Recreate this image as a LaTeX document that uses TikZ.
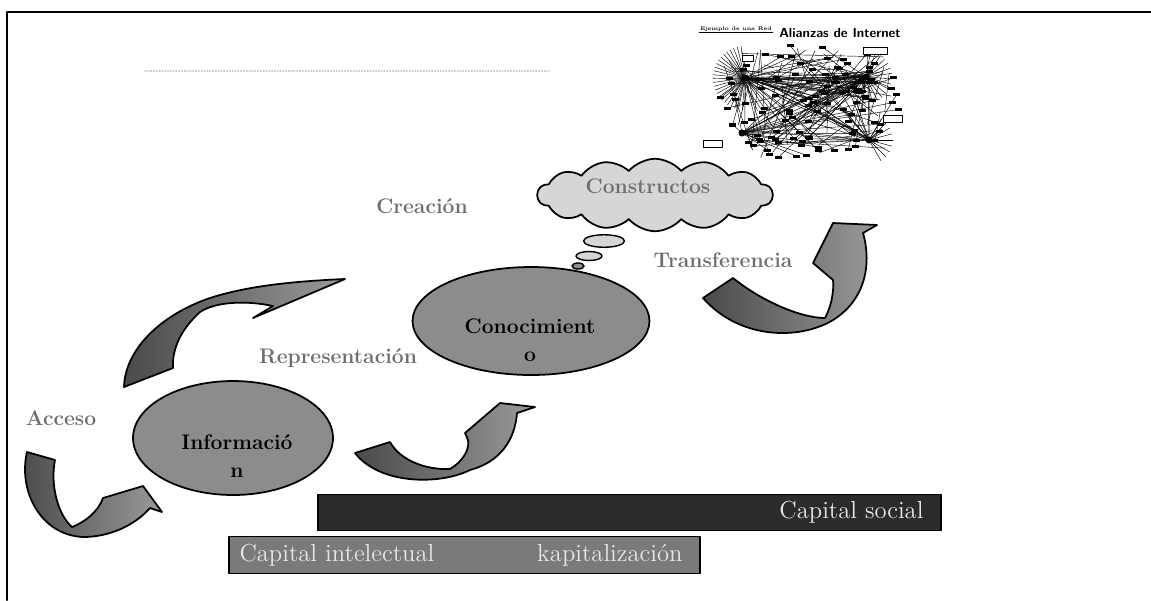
\documentclass[tikz,border=0pt]{standalone}
\usetikzlibrary{shapes.geometric,shapes.symbols}
\definecolor{labelgray}{HTML}{6E6E6E}
\definecolor{blobgray}{HTML}{8C8C8C}
\definecolor{cloudgray}{HTML}{D6D6D6}
\definecolor{arrowdark}{HTML}{4A4A4A}
\definecolor{arrowlight}{HTML}{9A9A9A}
\definecolor{bardark}{HTML}{2B2B2B}
\definecolor{barmid}{HTML}{7A7A7A}
\definecolor{bartext}{HTML}{E8E8E8}
\begin{document}
\begin{tikzpicture}[x=0.02cm,y=-0.02cm, line join=round, line cap=round,
	lbl/.style={font=\fontsize{12}{14}\selectfont\bfseries, text=labelgray},
	blob/.style={ellipse, draw=black, line width=1pt, fill=blobgray, inner sep=0pt},
	blobtext/.style={font=\fontsize{12}{16}\selectfont\bfseries, align=center},
	bend arrow/.style={draw=black, line width=1pt, left color=arrowdark, right color=arrowlight},
	bar/.style={draw=black, line width=0.8pt, inner sep=0pt, minimum height=0.73cm},
	bartxt/.style={font=\fontsize{14}{16}\selectfont, text=bartext},
	bubble/.style={ellipse, draw=black, line width=0.8pt, fill=cloudgray, inner sep=0pt},
	net/.style={line width=0.25pt}]
	\useasboundingbox (0,0) rectangle (1151,600);
	\draw[line width=1.2pt] (7,600)--(7,12)--(1151,12);
	\draw[gray!40, densely dotted, line width=0.6pt] (145,71)--(550,71);
	\node[font=\fontsize{3}{4}\selectfont\bfseries, inner sep=0.5pt] (ejemplo) at (736,29) {Ejemplo de una Red};
	\draw[line width=0.3pt] (ejemplo.south west)--(ejemplo.south east);
	\node[font=\sffamily\bfseries\fontsize{7.5}{9}\selectfont] (alianzas) at (840,33) {Alianzas de Internet};
	\coordinate (hub0) at (745,78);
	\coordinate (hub1) at (866,77);
	\coordinate (hub2) at (869,140);
	\coordinate (hub3) at (742,133);
	\pgfmathsetseed{2718}
	\foreach \a in {95,102,...,265}\draw[net] (hub0)--++(\a:32);
	\foreach \a in {-80,-68,...,80}\draw[net] (hub1)--++(\a:26);
	\foreach \a in {-60,-45,...,60}\draw[net] (hub2)--++(\a:24);
	\foreach \k in {1,...,115}{
		\pgfmathsetmacro{\ang}{360*rnd}
		\pgfmathsetmacro{\rad}{sqrt(rnd)}
		\pgfmathsetmacro{\px}{809+94*\rad*cos(\ang)}
		\pgfmathsetmacro{\py}{101+60*\rad*sin(\ang)}
		\pgfmathtruncatemacro{\hb}{4*rnd}
		\draw[net] (\px,\py)--(hub\hb);
		\fill (\px-3.5,\py-1.5) rectangle (\px+3.5,\py+1.5);
	}
	\foreach \k in {1,...,60}{
		\pgfmathsetmacro{\ax}{722+170*rnd}
		\pgfmathsetmacro{\ay}{48+110*rnd}
		\pgfmathsetmacro{\bx}{722+170*rnd}
		\pgfmathsetmacro{\by}{48+110*rnd}
		\draw[net] (\ax,\ay)--(\bx,\by);
	}
	\foreach \h in {0,1,2,3}\fill (hub\h) circle(3.5);
	\draw[net, fill=white] (863,47) rectangle (887,54) (883,115) rectangle (902,122) (703,140) rectangle (722,147) (742,55) rectangle (753,61);
	\node[cloud, cloud puffs=14, cloud puff arc=100, aspect=3.4, draw=black, line width=1pt, fill=cloudgray, minimum width=4.7cm, minimum height=1.45cm, inner sep=0pt] (constructos) at (655,195) {};
	\node[lbl] (constructostxt) at (648,186) {Constructos};
	\node[bubble, minimum width=0.82cm, minimum height=0.25cm] (bub1) at (604,241) {};
	\node[bubble, minimum width=0.52cm, minimum height=0.18cm] (bub2) at (589,256) {};
	\node[bubble, fill=blobgray, minimum width=0.24cm, minimum height=0.12cm] (bub3) at (578,266) {};
	\node[blob, minimum width=4.74cm, minimum height=2.16cm] (conocimiento) at (531,321) {};
	\node[blobtext] (conotxt) at (530,340) {Conocimient\\o};
	\node[blob, minimum width=4cm, minimum height=2.28cm] (informacion) at (233,438) {};
	\node[blobtext] (infotxt) at (237,456) {Informació\\n};
	\node[lbl] (acceso) at (61,418) {Acceso};
	\node[lbl] (representacion) at (338,358) {Representación};
	\node[lbl] (creacion) at (422,206) {Creación};
	\node[lbl] (transferencia) at (723,260) {Transferencia};
	\draw[bend arrow] (27,452)--(55,460) .. controls (50,485) and (58,515) .. (72,527) .. controls (85,522) and (98,512) .. (103,498)--(143,486)--(162,512)--(150,508) .. controls (135,525) and (110,537) .. (83,537) .. controls (40,535) and (18,490) .. (27,452)--cycle;
	\draw[bend arrow] (124,387) .. controls (125,350) and (160,315) .. (210,298) .. controls (250,285) and (300,281) .. (345,279)--(253,318)--(273,306) .. controls (245,300) and (215,302) .. (200,312) .. controls (180,330) and (172,350) .. (173,368)--cycle;
	\draw[bend arrow] (355,453)--(390,442) .. controls (400,460) and (425,470) .. (450,469) .. controls (462,462) and (470,450) .. (468,440)--(465,433)--(500,403)--(535,407)--(517,413) .. controls (515,440) and (500,462) .. (470,470) .. controls (440,485) and (380,485) .. (355,453)--cycle;
	\draw[bend arrow] (703,298)--(733,278) .. controls (760,300) and (800,318) .. (825,318) .. controls (832,305) and (834,290) .. (833,280)--(813,263)--(833,223)--(877,225)--(863,233) .. controls (872,265) and (865,300) .. (833,320) .. controls (800,340) and (740,340) .. (703,298)--cycle;
	\node[bar, fill=bardark, minimum width=12.46cm] (social) at (629.5,512.5) {};
	\node[bartxt, anchor=east] (socialtxt) at ([xshift=-0.24cm]social.east) {Capital social};
	\node[bar, fill=barmid, minimum width=9.42cm] (intelectual) at (464.5,555) {};
	\node[bartxt, anchor=west] (intelectualtxt) at ([xshift=0.1cm]intelectual.west) {Capital intelectual};
	\node[bartxt, anchor=east] (kapitalizacion) at ([xshift=-0.24cm]intelectual.east) {kapitalización};
\end{tikzpicture}
\end{document}
